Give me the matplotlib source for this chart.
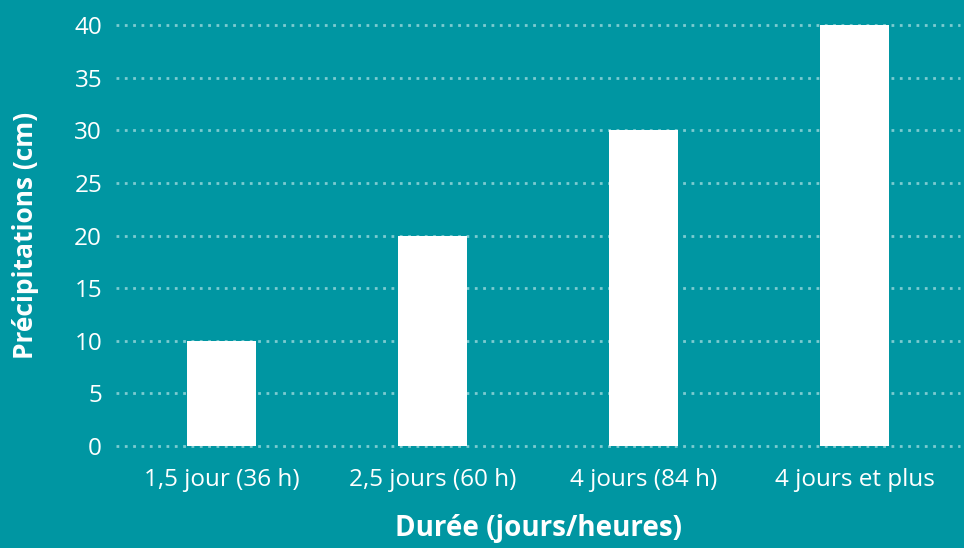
import matplotlib.pyplot as plt

categories = ['1,5 jour (36 h)', '2,5 jours (60 h)', '4 jours (84 h)', '4 jours et plus']
precip = [10, 20, 30, 40]
yticks = [0, 5, 10, 15, 20, 25, 30, 35, 40]

bg = '#0096a2'
plt.rcParams['font.family'] = ['Open Sans', 'DejaVu Sans']

fig = plt.figure(figsize=(9.64, 5.48), dpi=100, facecolor=bg)
ax = fig.add_axes([0.1203, 0.1861, 0.8756, 0.7683], facecolor=bg)

ax.bar(range(len(categories)), precip, width=0.33, color='white', zorder=3)

ax.set_xlim(-0.5, 3.5)
ax.set_ylim(0, 40)
ax.set_yticks(yticks)
ax.set_xticks(range(len(categories)))
ax.set_xticklabels(categories)

for y in yticks:
    ax.axhline(y, color='#7ccbd1', linewidth=2, linestyle=(0, (1, 2)),
               zorder=1, clip_on=False)

for s in ax.spines.values():
    s.set_visible(False)
ax.tick_params(length=0, colors='white', labelsize=17.5)
ax.tick_params(axis='y', pad=10)
ax.tick_params(axis='x', pad=16)

ax.set_ylabel('Précipitations (cm)', color='white', fontsize=19,
              fontweight='bold', labelpad=25)
ax.set_xlabel('Durée (jours/heures)', color='white', fontsize=20,
              fontweight='bold', labelpad=16)

fig.savefig('out.png', dpi=100, facecolor=bg)
